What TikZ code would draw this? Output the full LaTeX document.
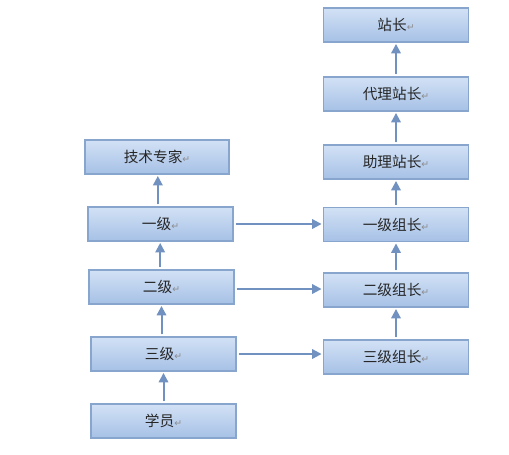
\documentclass[tikz,border=0pt]{standalone}
\usepackage{fontspec}
\setmainfont{Noto Sans CJK SC}
\newfontfamily\retfont{DejaVu Sans}
\usepackage{xcolor}
\usetikzlibrary{arrows.meta,positioning}
\definecolor{rtop}{HTML}{D2E1F5}
\definecolor{rbot}{HTML}{A6C1E6}
\definecolor{rline}{HTML}{88A5CE}
\definecolor{rarrow}{HTML}{7192C0}
\definecolor{rgray}{HTML}{8C8C8C}
\newcommand{\ret}{{\retfont\color{rgray}\fontsize{7}{7}\selectfont ↵}}

\begin{document}
\begin{tikzpicture}[x=0.75pt, y=-0.75pt,
    rank/.style={rectangle, draw=rline, line width=0.9pt, top color=rtop, bottom color=rbot, minimum width=108.75pt, minimum height=25.5pt, font=\fontsize{11}{13}\selectfont, text=black!85, inner sep=0pt},
    arr/.style={-{Triangle[length=7pt, width=7pt]}, line width=1.5pt, draw=rarrow, fill=rarrow, shorten <=1.5pt, shorten >=1pt}
]
    \useasboundingbox (0,0) rectangle (509,454);

    % Left column
    \node[rank, minimum width=108pt] (expert) at (157,157) {技术专家\ret};
    \node[rank] (one) at (160.5,224) {一级\ret};
    \node[rank] (two) at (161.5,287) {二级\ret};
    \node[rank] (three) at (163.5,354) {三级\ret};
    \node[rank] (trainee) at (163.5,421) {学员\ret};

    % Right column
    \node[rank] (chief) at (396,25) {站长\ret};
    \node[rank] (acting) at (396,94) {代理站长\ret};
    \node[rank] (assist) at (396,162) {助理站长\ret};
    \node[rank] (onelead) at (396,224.5) {一级组长\ret};
    \node[rank] (twolead) at (396,290) {二级组长\ret};
    \node[rank] (threelead) at (396,357) {三级组长\ret};

    % Arrows
    \draw[arr] (trainee) -- (three.south -| trainee);
    \draw[arr] ([xshift=-1.5pt]three.north) -- ([xshift=-1.5pt]three.north |- two.south);
    \draw[arr] ([xshift=-1pt]two.north) -- ([xshift=-1pt]two.north |- one.south);
    \draw[arr] ([xshift=-2pt]one.north) -- ([xshift=-2pt]one.north |- expert.south);
    \draw[arr] (threelead) -- (twolead);
    \draw[arr] (twolead) -- (onelead);
    \draw[arr] (onelead) -- (assist);
    \draw[arr] (assist) -- (acting);
    \draw[arr] (acting) -- (chief);
    \draw[arr] (one.east) -- (one.east -| onelead.west);
    \draw[arr] ([yshift=-1.5pt]two.east) -- ([yshift=-1.5pt]two.east -| twolead.west);
    \draw[arr] (three.east) -- (three.east -| threelead.west);

\end{tikzpicture}
\end{document}
